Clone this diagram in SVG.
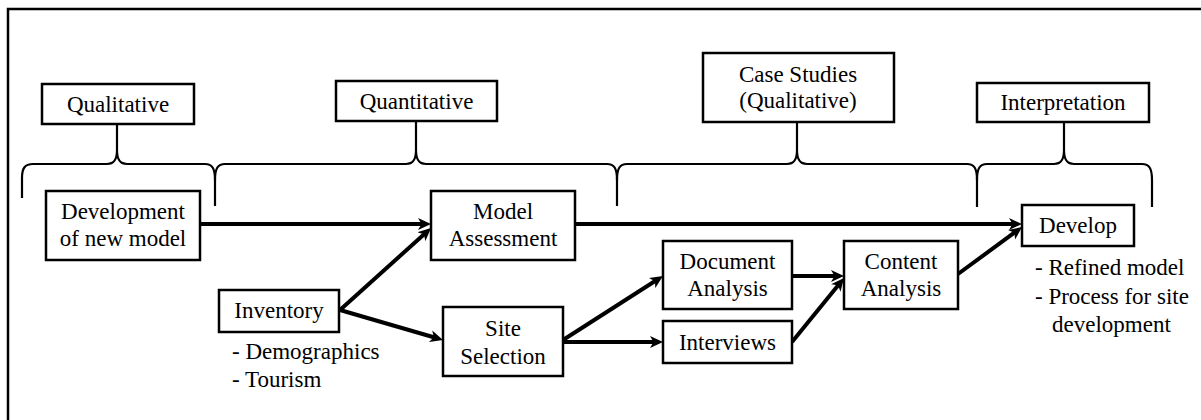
<svg xmlns="http://www.w3.org/2000/svg" width="1201" height="420" viewBox="0 0 1201 420">
<style>
.box{fill:#fff;stroke:#000;stroke-width:2.5}
.brace{fill:none;stroke:#000;stroke-width:2.2;stroke-linejoin:round}
.arrow{fill:none;stroke:#000;stroke-width:4;marker-end:url(#ah)}
.c{text-anchor:middle}
</style>
<defs>
<marker id="ah" viewBox="0 0 14 14" refX="6" refY="7" markerWidth="14" markerHeight="14" markerUnits="userSpaceOnUse" orient="auto">
<path d="M0,1 L13,7 L0,13 L3.5,7 Z" fill="#000"/>
</marker>
</defs>
<rect id="frame" x="8" y="9" width="1210" height="430" fill="#fff" stroke="#000" stroke-width="2.5"/>

<g id="braces">
<path class="brace" d="M22,198 V178 C22,168 25,164 33,164 H107 C114,164 117,160 117,150 V125 M117,150 C117,160 120,164 127,164 H205 C212,164 215,168 215,180 V206"/>
<path class="brace" d="M215,180 C215,168 218,164 225,164 H406 C413,164 416,160 416,150 V121 M416,150 C416,160 419,164 426,164 H607 C614,164 617,168 617,180 V206"/>
<path class="brace" d="M617,180 C617,168 620,164 627,164 H787 C794,164 797,160 797,150 V122 M797,150 C797,160 800,164 807,164 H967 C974,164 977,168 977,180 V207"/>
<path class="brace" d="M977,180 C977,168 980,164 987,164 H1054 C1061,164 1064,160 1064,150 V122 M1064,150 C1064,160 1067,164 1074,164 H1142 C1149,164 1152,168 1152,180 V207"/>
</g>

<g id="connectors">
<line class="arrow" x1="200" y1="224" x2="424" y2="224"/>
<line class="arrow" x1="340" y1="310" x2="425.8" y2="232.7"/>
<line class="arrow" x1="340" y1="310" x2="436.3" y2="338"/>
<line class="arrow" x1="575" y1="224" x2="1015" y2="224"/>
<line class="arrow" x1="563" y1="340" x2="657.1" y2="279.8"/>
<line class="arrow" x1="563" y1="342" x2="656" y2="342"/>
<line class="arrow" x1="792" y1="276" x2="837" y2="276"/>
<line class="arrow" x1="792" y1="342" x2="839.6" y2="283.4"/>
<line class="arrow" x1="958" y1="274" x2="1016.4" y2="231.2"/>
</g>

<g font-family="Liberation Serif, Times New Roman, serif" font-size="23" fill="#000">
<g id="qualitative"><rect class="box" x="42" y="84" width="152" height="40"/><text class="c" x="118" y="112">Qualitative</text></g>
<g id="quantitative"><rect class="box" x="336" y="81" width="161" height="40"/><text class="c" x="416.5" y="109">Quantitative</text></g>
<g id="casestudies"><rect class="box" x="703" y="53" width="191" height="69"/><text class="c" x="798" y="82">Case Studies</text><text class="c" x="798" y="108">(Qualitative)</text></g>
<g id="interpretation"><rect class="box" x="977" y="83" width="172" height="39"/><text class="c" x="1063" y="110">Interpretation</text></g>

<g id="development"><rect class="box" x="46" y="191" width="154" height="69"/><text class="c" x="123" y="219">Development</text><text class="c" x="123" y="246">of new model</text></g>
<g id="model"><rect class="box" x="431" y="191" width="144" height="69"/><text class="c" x="503" y="219">Model</text><text class="c" x="503" y="246">Assessment</text></g>
<g id="inventory"><rect class="box" x="219" y="290" width="120" height="42"/><text class="c" x="279" y="318">Inventory</text>
<text x="232" y="359">- Demographics</text><text x="232" y="387">- Tourism</text></g>
<g id="site"><rect class="box" x="443" y="307" width="120" height="69"/><text class="c" x="503" y="336">Site</text><text class="c" x="503" y="364">Selection</text></g>
<g id="document"><rect class="box" x="663" y="241" width="129" height="68"/><text class="c" x="727.5" y="268.5">Document</text><text class="c" x="727.5" y="295.5">Analysis</text></g>
<g id="interviews"><rect class="box" x="663" y="321" width="129" height="42"/><text class="c" x="727.5" y="349.5">Interviews</text></g>
<g id="content"><rect class="box" x="844" y="241" width="114" height="68"/><text class="c" x="901" y="268.5">Content</text><text class="c" x="901" y="295.5">Analysis</text></g>
<g id="develop"><rect class="box" x="1022" y="205" width="112" height="41"/><text class="c" x="1078" y="233">Develop</text>
<text x="1035" y="275">- Refined model</text><text x="1035" y="304">- Process for site</text><text x="1052" y="332">development</text></g>
</g>
</svg>
